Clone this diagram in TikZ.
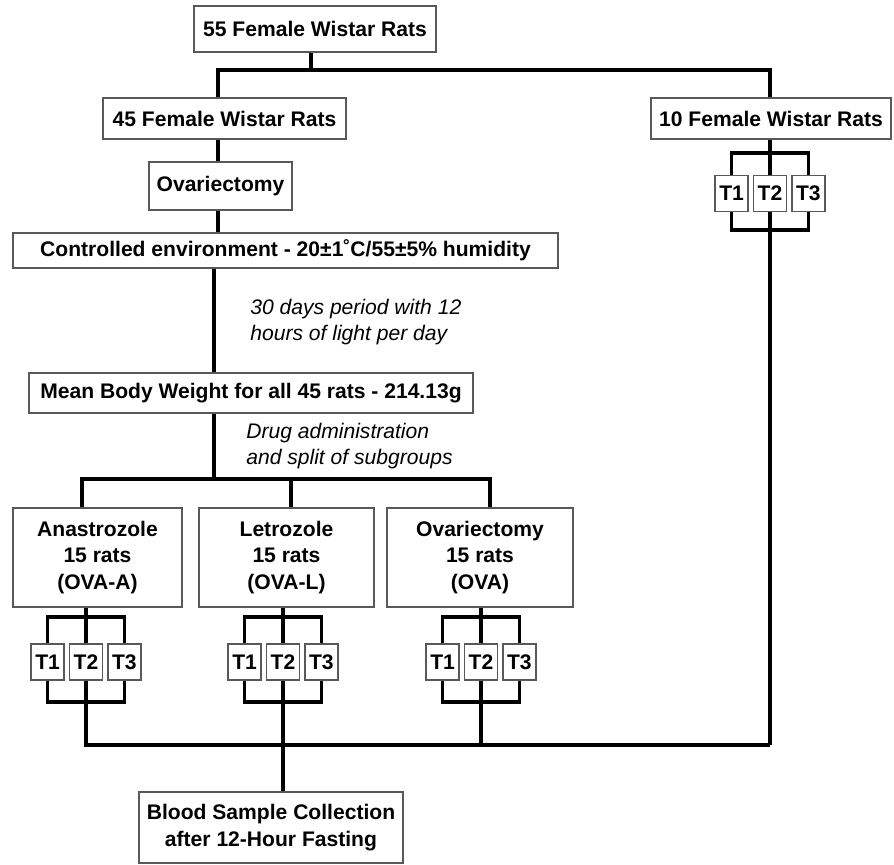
\documentclass[tikz,border=0pt]{standalone}
\usepackage{fontspec}
\setmainfont{Liberation Sans}
\usepackage{tikz}
\usetikzlibrary{positioning}

\begin{document}
\begin{tikzpicture}[
    x=0.02cm, y=-0.02cm,
    node distance=0.08cm,
    box/.style={
        draw=black!65,
        line width=0.8pt,
        fill=white,
        rectangle,
        align=center,
        inner sep=2pt,
        font=\fontsize{12}{15}\selectfont\bfseries
    },
    tbox/.style={box, minimum width=0.66cm, minimum height=0.72cm, inner sep=0pt},
    note/.style={anchor=west, align=left, inner sep=0pt,
        font=\fontsize{12}{15}\selectfont\itshape},
    link/.style={line width=1.8pt}
]
\useasboundingbox (0,0) rectangle (894,865);

% ===== Main column =====
\node[box, minimum width=4.84cm, minimum height=0.92cm] (all) at (315,29) {55 Female Wistar Rats};

\node[box, minimum width=4.86cm, minimum height=0.82cm] (ovagrp) at (224.5,118.5) {45 Female Wistar Rats};

\node[box, minimum width=4.8cm, minimum height=0.82cm] (ctrl) at (771,118.5) {10 Female Wistar Rats};

\node[box, minimum width=2.86cm, minimum height=0.96cm] (surgery) at (220.5,186) {Ovariectomy};

\node[box, minimum width=10.9cm, minimum height=0.7cm] (env) at (285.5,250.5) {Controlled environment - 20±1˚C/55±5\% humidity};

\node[box, minimum width=8.88cm, minimum height=0.8cm] (weight) at (251,393) {Mean Body Weight for all 45 rats - 214.13g};

% ===== Subgroups =====
\node[box, minimum width=3.38cm, minimum height=1.98cm] (ana) at (97.5,557.5) {Anastrozole\\15 rats\\(OVA-A)};

\node[box, minimum width=3.5cm, minimum height=1.98cm] (let) at (286.5,557.5) {Letrozole\\15 rats\\(OVA-L)};

\node[box, minimum width=3.72cm, minimum height=1.98cm] (ovx) at (480,557.5) {Ovariectomy\\15 rats\\(OVA)};

\node[box, minimum width=5.28cm, minimum height=1.42cm] (blood) at (271,827.5) {Blood Sample Collection\\after 12-Hour Fasting};

% ===== Notes =====
\node[note] (light) at (250,322) {30 days period with 12\\hours of light per day};
\node[note] (drug) at (246,446) {Drug administration\\and split of subgroups};

% ===== Time points =====
\node[tbox] (c2) at (770,193.5) {T2};
\node[tbox, left=of c2] (c1) {T1};
\node[tbox, right=of c2] (c3) {T3};

\node[tbox] (a2) at (86,662) {T2};
\node[tbox, left=of a2] (a1) {T1};
\node[tbox, right=of a2] (a3) {T3};

\node[tbox] (l2) at (283,662) {T2};
\node[tbox, left=of l2] (l1) {T1};
\node[tbox, right=of l2] (l3) {T3};

\node[tbox] (o2) at (481,662) {T2};
\node[tbox, left=of o2] (o1) {T1};
\node[tbox, right=of o2] (o3) {T3};

% ===== Junctions =====
\coordinate (split) at (311,70);
\coordinate (left) at (218,70);
\coordinate (right) at (770,70);
\coordinate (mid) at (214,479);
\coordinate (jana) at (82,479);
\coordinate (jlet) at (291,479);
\coordinate (jovx) at (490,479);
\coordinate (upc) at (770,153);
\coordinate (lowc) at (770,230);
\coordinate (up) at (0,617);
\coordinate (low) at (0,702);
\coordinate (merge) at (283,745);

% ===== Connectors =====
\draw[link] (all.south -| split) -- (split);
\draw[link] (ovagrp.north -| left) -- (left) -- (right) -- (ctrl.north -| right);
\draw[link] (ovagrp.south -| left) -- (surgery.north -| left);
\draw[link] (surgery.south -| left) -- (env.north -| left);
\draw[link] (env.south -| mid) -- (weight.north -| mid);
\draw[link] (weight.south -| mid) -- (mid);
\draw[link] (ana.north -| jana) -- (jana) -- (jovx) -- (ovx.north -| jovx);
\draw[link] (jlet) -- (let.north -| jlet);

% control group
\draw[link] (ctrl.south -| c2) -- (c2.north);
\draw[link] (c1.north) -- (c1 |- upc) -- (c3 |- upc) -- (c3.north);
\draw[link] (c1.south) -- (c1 |- lowc) -- (c3 |- lowc) -- (c3.south);
\draw[link] (c2.south) -- (c2 |- merge);

% treated groups
\draw[link] (ana.south -| a2) -- (a2.north);
\draw[link] (a1.north) -- (a1 |- up) -- (a3 |- up) -- (a3.north);
\draw[link] (a1.south) -- (a1 |- low) -- (a3 |- low) -- (a3.south);

\draw[link] (let.south -| l2) -- (l2.north);
\draw[link] (l1.north) -- (l1 |- up) -- (l3 |- up) -- (l3.north);
\draw[link] (l1.south) -- (l1 |- low) -- (l3 |- low) -- (l3.south);

\draw[link] (ovx.south -| o2) -- (o2.north);
\draw[link] (o1.north) -- (o1 |- up) -- (o3 |- up) -- (o3.north);
\draw[link] (o1.south) -- (o1 |- low) -- (o3 |- low) -- (o3.south);

% collection
\draw[link] (a2.south) -- (a2 |- merge) -- (c2 |- merge);
\draw[link] (l2.south) -- (l2 |- merge);
\draw[link] (o2.south) -- (o2 |- merge);
\draw[link] (merge) -- (blood.north -| merge);

\end{tikzpicture}
\end{document}
